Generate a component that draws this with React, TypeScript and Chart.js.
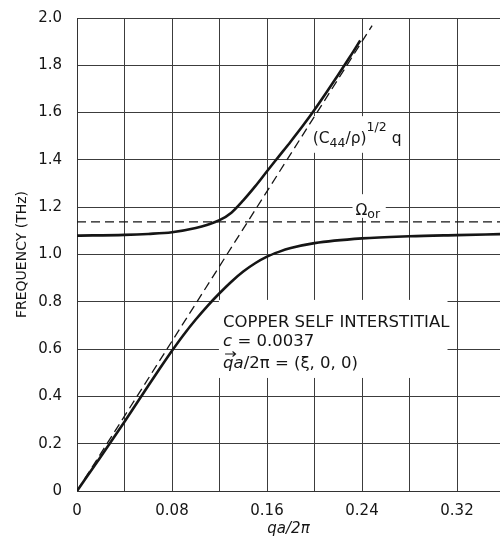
import React, { useEffect, useRef } from 'react';
import { Chart, registerables } from 'chart.js';

Chart.register(...registerables);

// Upper (resonance / optic-like) branch
const upperQ = [0, 0.04, 0.06, 0.08, 0.10, 0.11, 0.12, 0.13, 0.14, 0.15, 0.16, 0.17, 0.18, 0.19, 0.20, 0.21, 0.22, 0.23, 0.2385];
const upperF = [1.08, 1.083, 1.087, 1.094, 1.112, 1.126, 1.145, 1.177, 1.229, 1.288, 1.352, 1.415, 1.478, 1.543, 1.612, 1.685, 1.76, 1.837, 1.905];

// Lower (acoustic) branch
const lowerQ = [0, 0.02, 0.04, 0.06, 0.07, 0.08, 0.09, 0.10, 0.11, 0.12, 0.13, 0.14, 0.15, 0.16, 0.17, 0.18, 0.20, 0.24, 0.28, 0.32, 0.3562];
const lowerF = [0, 0.145, 0.293, 0.445, 0.52, 0.593, 0.662, 0.725, 0.783, 0.836, 0.885, 0.928, 0.963, 0.991, 1.011, 1.027, 1.048, 1.068, 1.077, 1.082, 1.086];

// Unperturbed sound line (C44/rho)^1/2 q
const soundQ = [0, 0.2485];
const soundF = [0, 1.968];

// Resonance frequency Omega_or
const omegaQ = [0, 0.3562];
const omegaF = [1.138, 1.138];

const xTickLabels = ['0', '', '0.08', '', '0.16', '', '0.24', '', '0.32'];
const yTickLabels = ['0', '0.2', '0.4', '0.6', '0.8', '1.0', '1.2', '1.4', '1.6', '1.8', '2.0'];

const FONT = 'DejaVu Sans';
const INK = '#151515';

const pts = (xs: number[], ys: number[]) => xs.map((x, i) => ({ x, y: ys[i] }));

function drawRuns(ctx: CanvasRenderingContext2D, x: number, y: number, runs: [string, string, number][]) {
  let cx = x;
  for (const [t, f, dy] of runs) {
    ctx.font = f;
    ctx.fillText(t, cx, y + dy);
    cx += ctx.measureText(t).width;
  }
  return cx;
}

const annotations = {
  id: 'annotations',
  beforeDatasetsDraw(chart: any) {
    const { ctx, scales } = chart;
    const xs = scales.x, ys = scales.y;
    const rect = (qa: number, qb: number, fa: number, fb: number) => {
      const x0 = xs.getPixelForValue(qa), x1 = xs.getPixelForValue(qb);
      const y0 = ys.getPixelForValue(fa), y1 = ys.getPixelForValue(fb);
      ctx.fillRect(x0, y0, x1 - x0, y1 - y0);
    };
    ctx.save();
    ctx.fillStyle = '#ffffff';
    rect(0.1195, 0.312, 0.808, 0.478);
    rect(0.197, 0.277, 1.585, 1.43);
    rect(0.232, 0.26, 1.255, 1.155);
    ctx.restore();
  },
  afterDatasetsDraw(chart: any) {
    const { ctx, scales } = chart;
    const xs = scales.x, ys = scales.y;
    ctx.save();
    ctx.fillStyle = INK;
    ctx.strokeStyle = INK;
    ctx.textBaseline = 'alphabetic';
    ctx.textAlign = 'left';

    // Box text
    const bx = xs.getPixelForValue(0.1230);
    const b1 = ys.getPixelForValue(0.693);
    const b2 = ys.getPixelForValue(0.612);
    const b3 = ys.getPixelForValue(0.520);
    const f16 = `16.5px "${FONT}"`;
    const i16 = `italic 16.5px "${FONT}"`;
    drawRuns(ctx, bx, b1, [['COPPER SELF INTERSTITIAL', f16, 0]]);
    drawRuns(ctx, bx, b2, [['c', i16, 0], [' = 0.0037', f16, 0]]);
    ctx.font = i16;
    const qw = ctx.measureText('q').width;
    drawRuns(ctx, bx, b3, [['q', i16, 0], ['a', i16, 0], ['/2π = (ξ, 0, 0)', f16, 0]]);
    // vector arrow over q
    const ay = b3 - 14;
    ctx.lineWidth = 1.1;
    ctx.beginPath();
    ctx.moveTo(bx + 2, ay);
    ctx.lineTo(bx + qw + 2, ay);
    ctx.moveTo(bx + qw - 1, ay - 2.5);
    ctx.lineTo(bx + qw + 2, ay);
    ctx.lineTo(bx + qw - 1, ay + 2.5);
    ctx.stroke();

    // Sound line label
    const sx = xs.getPixelForValue(0.1985);
    const sy = ys.getPixelForValue(1.471);
    const f15 = `15.5px "${FONT}"`;
    const f12 = `12.5px "${FONT}"`;
    drawRuns(ctx, sx, sy, [
      ['(C', f15, 0],
      ['44', f12, 4],
      ['/ρ)', f15, 0],
      ['1/2', f12, -12],
      [' q', f15, 0],
    ]);

    // Omega label
    const ox = xs.getPixelForValue(0.2345);
    const oy = ys.getPixelForValue(1.168);
    drawRuns(ctx, ox, oy, [['Ω', f15, 0], ['or', f12, 3]]);

    ctx.restore();
  },
};

export default function App() {
  const ref = useRef<HTMLCanvasElement>(null);
  useEffect(() => {
    if (!ref.current) return;
    const chart = new Chart(ref.current, {
      type: 'line',
      data: {
        datasets: [
          {
            data: pts(upperQ, upperF),
            borderColor: INK,
            borderWidth: 2.6,
            pointRadius: 0,
            cubicInterpolationMode: 'monotone',
            fill: false,
          },
          {
            data: pts(lowerQ, lowerF),
            borderColor: INK,
            borderWidth: 2.6,
            pointRadius: 0,
            cubicInterpolationMode: 'monotone',
            fill: false,
          },
          {
            data: pts(soundQ, soundF),
            borderColor: INK,
            borderWidth: 1.3,
            borderDash: [9, 5],
            pointRadius: 0,
            fill: false,
          },
          {
            data: pts(omegaQ, omegaF),
            borderColor: INK,
            borderWidth: 1.3,
            borderDash: [9, 5],
            pointRadius: 0,
            fill: false,
          },
        ],
      },
      options: {
        responsive: false,
        animation: false,
        events: [],
        layout: { padding: { top: 18, right: 0, left: 0, bottom: 0 } },
        plugins: { legend: { display: false }, tooltip: { enabled: false } },
        scales: {
          x: {
            type: 'linear',
            min: 0,
            max: 0.3562,
            border: { display: true, color: '#333', width: 1 },
            grid: { color: '#3c3c3c', lineWidth: 1, drawTicks: false },
            ticks: {
              stepSize: 0.04,
              includeBounds: false,
              autoSkip: false,
              maxRotation: 0,
              padding: 11,
              color: INK,
              font: { family: FONT, size: 15 },
              callback: (v: any) => xTickLabels[Math.round(Number(v) / 0.04)] ?? '',
            },
            title: {
              display: true,
              text: 'qa/2π',
              color: INK,
              font: { family: FONT, size: 15, style: 'italic' },
              padding: { top: 0, bottom: 0 },
            },
            afterFit: (s: any) => { s.height = 47; },
          },
          y: {
            type: 'linear',
            min: 0,
            max: 2,
            border: { display: true, color: '#333', width: 1 },
            grid: { color: '#3c3c3c', lineWidth: 1, drawTicks: true, tickLength: 11, tickColor: 'rgba(0,0,0,0)' },
            ticks: {
              stepSize: 0.2,
              autoSkip: false,
              padding: 4,
              color: INK,
              font: { family: FONT, size: 15 },
              callback: (v: any) => yTickLabels[Math.round(Number(v) / 0.2)] ?? '',
            },
            title: {
              display: true,
              text: 'FREQUENCY (THz)',
              color: INK,
              font: { family: FONT, size: 14 },
              padding: { top: 14, bottom: 0 },
            },
            afterFit: (s: any) => { s.width = 77; },
          },
        },
      },
      plugins: [annotations],
    } as any);
    return () => chart.destroy();
  }, []);

  return (
    <div style={{ position: 'absolute', left: 0, top: 0, width: 500, height: 538, background: '#fff' }}>
      <canvas ref={ref} width={500} height={538} style={{ width: 500, height: 538, display: 'block' }} />
    </div>
  );
}
